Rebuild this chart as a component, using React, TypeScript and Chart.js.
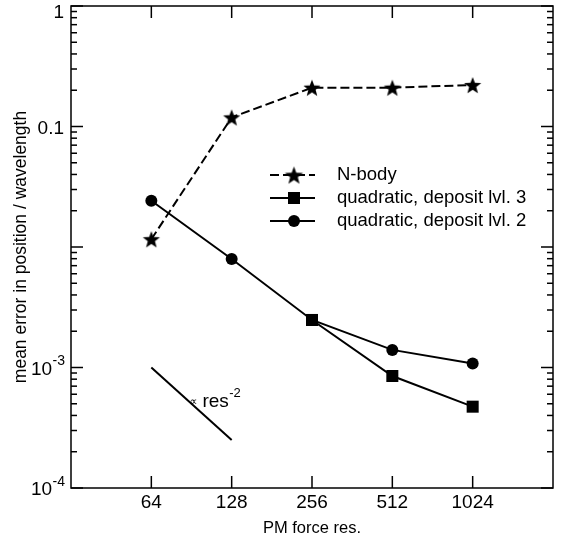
import React, { useEffect, useRef } from "react";
import { Chart, registerables } from "chart.js";
Chart.register(...registerables);

// ---- data ----
const resolutions = [64, 128, 256, 512, 1024];
const nbodyErr = [0.0116, 0.119, 0.21, 0.21, 0.221];
const quadLvl3Res = [256, 512, 1024];
const quadLvl3Err = [0.00248, 0.00085, 0.000473];
const quadLvl2Err = [0.0242, 0.00795, 0.00248, 0.0014, 0.00108];
const slopeRes = [64, 128];
const slopeErr = [1e-3, 2.5e-4];

const seriesLabels = ["N-body", "quadratic, deposit lvl. 3", "quadratic, deposit lvl. 2"];
const xTicks = [64, 128, 256, 512, 1024];
const xTickLabels = ["64", "128", "256", "512", "1024"];
const yMajor = [1e-4, 1e-3, 1e-2, 1e-1, 1];
const yLabelBase = ["10", "10", "", "0.1", "1"];
const yLabelExp = ["-4", "-3", "", "", ""];
const xTitle = "PM force res.";
const yTitle = "mean error in position / wavelength";

const FONT = "'Liberation Sans', Arial, Helvetica, sans-serif";

function makeStar(R: number) {
  const c = document.createElement("canvas");
  const s = Math.ceil(R * 2 + 2);
  c.width = s;
  c.height = s;
  const g = c.getContext("2d")!;
  const cx = s / 2, cy = s / 2 + R * 0.1;
  const r = R * 0.42;
  g.beginPath();
  for (let i = 0; i < 10; i++) {
    const rad = i % 2 === 0 ? R : r;
    const ang = -Math.PI / 2 + (i * Math.PI) / 5;
    const px = cx + rad * Math.cos(ang), py = cy + rad * Math.sin(ang);
    if (i === 0) g.moveTo(px, py); else g.lineTo(px, py);
  }
  g.closePath();
  g.fillStyle = "#000";
  g.fill();
  return c;
}

export default function App() {
  const ref = useRef<HTMLCanvasElement>(null);
  useEffect(() => {
    document.body.style.margin = "0";
    const star = makeStar(9);
    const legendStar = makeStar(9.5);

    const overlay = {
      id: "overlay",
      afterDraw(chart: any) {
        const { ctx, chartArea: a } = chart;
        const x = chart.scales.x, y = chart.scales.y;
        ctx.save();
        ctx.strokeStyle = "#000";
        ctx.fillStyle = "#000";
        ctx.lineWidth = 1.5;
        const line = (x1: number, y1: number, x2: number, y2: number) => {
          ctx.beginPath(); ctx.moveTo(x1, y1); ctx.lineTo(x2, y2); ctx.stroke();
        };
        ctx.strokeRect(a.left, a.top, a.right - a.left, a.bottom - a.top);
        // y ticks
        for (let e = -4; e <= 0; e++) {
          for (let m = 1; m <= 9; m++) {
            const v = m * Math.pow(10, e);
            if (v > 1.000001) break;
            const py = y.getPixelForValue(v);
            const len = m === 1 ? 12 : 6;
            line(a.left, py, a.left + len, py);
            line(a.right, py, a.right - len, py);
          }
        }
        // x ticks
        xTicks.forEach((v) => {
          const px = x.getPixelForValue(v);
          line(px, a.bottom, px, a.bottom - 12);
          line(px, a.top, px, a.top + 12);
        });
        // x labels
        ctx.font = `19px ${FONT}`;
        ctx.textAlign = "center";
        ctx.textBaseline = "middle";
        xTicks.forEach((v, i) => ctx.fillText(xTickLabels[i], x.getPixelForValue(v), a.bottom + 15));
        // y labels
        yMajor.forEach((v, i) => {
          if (!yLabelBase[i]) return;
          let py = y.getPixelForValue(v) + 2;
          if (v === 1) py += 5;
          const right = 65;
          ctx.textBaseline = "middle";
          if (yLabelExp[i]) {
            ctx.font = `14px ${FONT}`;
            const ew = ctx.measureText(yLabelExp[i]).width;
            ctx.textAlign = "right";
            ctx.fillText(yLabelExp[i], right, py - 8);
            ctx.font = `19px ${FONT}`;
            ctx.fillText(yLabelBase[i], right - ew - 0.5, py);
          } else {
            ctx.font = `19px ${FONT}`;
            ctx.textAlign = "right";
            ctx.fillText(yLabelBase[i], right - 1, py);
          }
        });
        // titles
        ctx.font = `16.5px ${FONT}`;
        ctx.textAlign = "center";
        ctx.textBaseline = "middle";
        ctx.fillText(xTitle, (a.left + a.right) / 2, 528);
        ctx.font = `17.5px ${FONT}`;
        ctx.save();
        ctx.translate(21, (a.top + a.bottom) / 2);
        ctx.rotate(-Math.PI / 2);
        ctx.fillText(yTitle, 0, 0);
        ctx.restore();
        // slope annotation
        const ax = x.getPixelForValue(92), ay = y.getPixelForValue(5.2e-4);
        ctx.font = `11px 'DejaVu Sans', sans-serif`;
        ctx.textAlign = "left";
        ctx.textBaseline = "alphabetic";
        ctx.fillText("\u221d", ax - 4, ay + 3);
        ctx.font = `19px ${FONT}`;
        ctx.fillText("res", ax + 9, ay + 5);
        const rw = ctx.measureText("res").width;
        ctx.font = `13px ${FONT}`;
        ctx.fillText("-2", ax + 9 + rw + 0.5, ay - 5);
        // legend
        const lx1 = 270, lx2 = 315, mx = 294, tx = 337;
        const rows = [175, 198, 221];
        ctx.lineWidth = 2;
        rows.forEach((ry, i) => {
          ctx.setLineDash(i === 0 ? [9, 4] : []);
          line(lx1, ry, lx2, ry);
          ctx.setLineDash([]);
          if (i === 0) ctx.drawImage(legendStar, mx - legendStar.width / 2, ry - legendStar.height / 2);
          else if (i === 1) ctx.fillRect(mx - 6, ry - 6, 12, 12);
          else { ctx.beginPath(); ctx.arc(mx, ry, 6, 0, Math.PI * 2); ctx.fill(); }
          ctx.font = `18.5px ${FONT}`;
          ctx.textAlign = "left";
          ctx.textBaseline = "middle";
          ctx.fillText(seriesLabels[i], tx, ry);
        });
        ctx.restore();
      },
    };

    const chart = new Chart(ref.current!, {
      type: "line",
      data: {
        datasets: [
          {
            label: seriesLabels[1],
            data: quadLvl3Res.map((r, i) => ({ x: r, y: quadLvl3Err[i] })),
            borderColor: "#000", backgroundColor: "#000", borderWidth: 2,
            pointStyle: "rect", pointRadius: 8.5, pointBorderWidth: 0, order: 0,
          },
          {
            label: seriesLabels[2],
            data: resolutions.map((r, i) => ({ x: r, y: quadLvl2Err[i] })),
            borderColor: "#000", backgroundColor: "#000", borderWidth: 2,
            pointStyle: "circle", pointRadius: 6, pointBorderWidth: 0, order: 1,
          },
          {
            label: seriesLabels[0],
            data: resolutions.map((r, i) => ({ x: r, y: nbodyErr[i] })),
            borderColor: "#000", backgroundColor: "#000", borderWidth: 2,
            borderDash: [9, 4],
            pointStyle: star as any, pointRadius: 9, order: 2,
          },
          {
            label: "slope",
            data: slopeRes.map((r, i) => ({ x: r, y: slopeErr[i] })),
            borderColor: "#000", borderWidth: 2, pointRadius: 0, order: 3,
          },
        ],
      },
      options: {
        animation: false,
        responsive: false,
        events: [],
        layout: { autoPadding: false, padding: { top: 6, right: 8, left: 0, bottom: 0 } },
        plugins: { legend: { display: false }, tooltip: { enabled: false } },
        scales: {
          x: {
            type: "logarithmic", min: 32, max: 2048,
            grid: { display: false }, border: { display: false },
            ticks: { display: false },
            afterBuildTicks: (s: any) => { s.ticks = xTicks.map((v) => ({ value: v })); },
            afterFit: (s: any) => { s.height = 52; },
          },
          y: {
            type: "logarithmic", min: 1e-4, max: 1,
            grid: { display: false }, border: { display: false },
            ticks: { display: false },
            afterBuildTicks: (s: any) => { s.ticks = yMajor.map((v) => ({ value: v })); },
            afterFit: (s: any) => { s.width = 71; },
          },
        },
      },
      plugins: [overlay],
    });
    return () => chart.destroy();
  }, []);
  return (
    <div style={{ width: 561, height: 540 }}>
      <canvas ref={ref} width={561} height={540} style={{ display: "block" }} />
    </div>
  );
}
